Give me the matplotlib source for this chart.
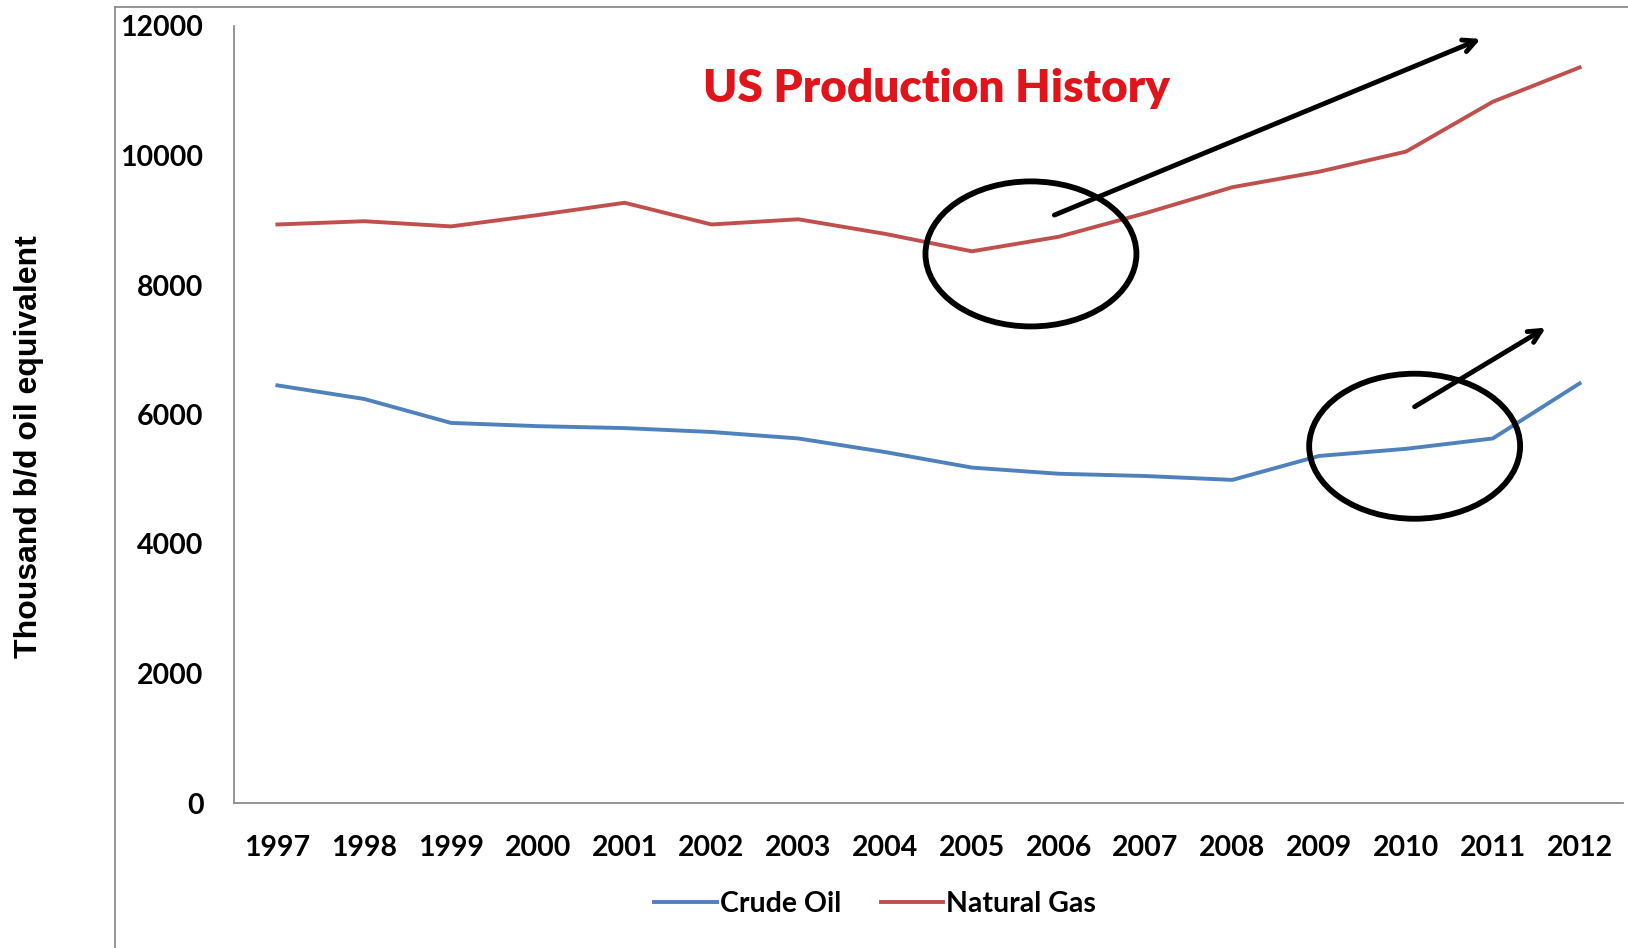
import matplotlib.pyplot as plt
from matplotlib.patches import Ellipse
from matplotlib.lines import Line2D

years = [str(y) for y in range(1997, 2013)]
crude_oil = [6450, 6240, 5870, 5820, 5790, 5730, 5630, 5420,
             5180, 5085, 5050, 4990, 5360, 5470, 5630, 6480]
natural_gas = [8935, 8985, 8905, 9080, 9270, 8935, 9015, 8790,
               8520, 8745, 9110, 9510, 9750, 10060, 10830, 11360]

# highlight circles and trend arrows (category index, value)
circles = [(8.68, 8480), (13.10, 5510)]
arrows = [((8.95, 9080), (13.86, 11800)), ((13.10, 6120), (14.61, 7340))]

TICK_FONT = "Lato"
fig = plt.figure(figsize=(16.28, 9.48), dpi=100)
ax = fig.add_axes([234 / 1628, 145 / 948, 1389 / 1628, 777 / 948])

x = range(len(years))
ax.plot(x, crude_oil, color="#4F81BD", lw=2.8, label="Crude Oil")
ax.plot(x, natural_gas, color="#C0504D", lw=2.8, label="Natural Gas")

ax.set_xlim(-0.5, len(years) - 0.5)
ax.set_ylim(0, 12000)
ax.set_yticks(range(0, 12001, 2000))
ax.set_xticks(list(x))
ax.set_xticklabels(years)
for lab in ax.get_xticklabels() + ax.get_yticklabels():
    lab.set_fontfamily(TICK_FONT)
    lab.set_fontweight("bold")
    lab.set_fontsize(20.5)
ax.tick_params(axis="both", length=0)
ax.tick_params(axis="x", pad=23)
ax.tick_params(axis="y", pad=22)
for side in ("top", "right"):
    ax.spines[side].set_visible(False)
for side in ("left", "bottom"):
    ax.spines[side].set_color("#8c8c8c")
    ax.spines[side].set_linewidth(1.3)

ax.text(0.506, 0.92, "US Production History", transform=ax.transAxes,
        ha="center", va="center", color="#E0141B", fontsize=33,
        fontfamily=TICK_FONT, fontweight="heavy")

for cx, cy in circles:
    ax.add_patch(Ellipse((cx, cy), 2.43, 2240, fill=False,
                         edgecolor="black", lw=4.2, zorder=4))
for (x0, y0), (x1, y1) in arrows:
    ax.annotate("", xy=(x1, y1), xytext=(x0, y0),
                arrowprops=dict(arrowstyle="->,head_length=0.9,head_width=0.45",
                                color="black", lw=3.5, shrinkA=0, shrinkB=0),
                zorder=5)

fig.text(29 / 1628, 1 - 447 / 948, "Thousand b/d oil equivalent",
         rotation=90, ha="center", va="center", fontsize=23,
         fontfamily="Liberation Sans", fontweight="bold")

fig.legend(loc="center", bbox_to_anchor=(875 / 1628, 1 - 904 / 948), ncol=2,
           frameon=False, handlelength=2.2, handletextpad=0.1,
           columnspacing=1.4, prop=dict(family=TICK_FONT, weight="bold", size=20.5))

# outer chart frame
fig.add_artist(Line2D([115 / 1628, 1], [1 - 7 / 948, 1 - 7 / 948],
                      color="#8c8c8c", lw=1.3, transform=fig.transFigure))
fig.add_artist(Line2D([115 / 1628, 115 / 1628], [0, 1 - 7 / 948],
                      color="#8c8c8c", lw=1.3, transform=fig.transFigure))

fig.savefig("out.png", dpi=100)
